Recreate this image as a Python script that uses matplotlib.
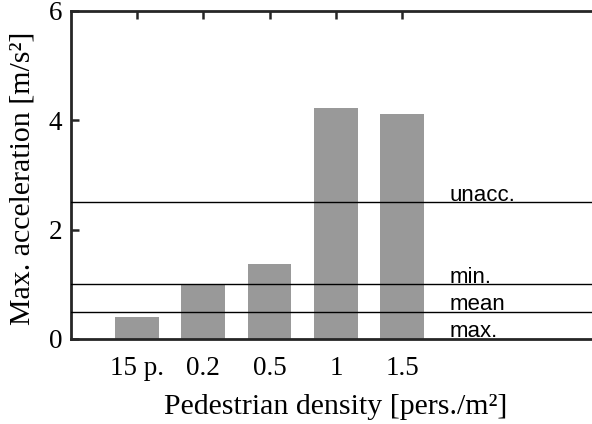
import matplotlib
matplotlib.use("Agg")
import matplotlib.pyplot as plt

# Data
categories = ["15 p.", "0.2", "0.5", "1", "1.5"]
max_accel = [0.41, 0.99, 1.37, 4.22, 4.11]

# Comfort thresholds (m/s^2)
threshold_names = ["unacc.", "min.", "mean", "max."]
threshold_values = [2.5, 1.0, 0.5, 0.0]

plt.rcParams["font.family"] = ["Liberation Serif", "DejaVu Serif"]

fig = plt.figure(figsize=(5.92, 4.24), dpi=100)
ax = fig.add_axes([0.1194, 0.2005, 0.896, 0.7743])

positions = list(range(1, len(categories) + 1))
ax.bar(positions, max_accel, width=0.66, color="#999999", zorder=2)

for name, val in zip(threshold_names, threshold_values):
    if val > 0:
        ax.axhline(val, color="black", linewidth=1.0, zorder=3)
    ax.text(5.71, val + 0.03, name, family=["Liberation Sans", "DejaVu Sans"],
            fontsize=16, ha="left", va="baseline", zorder=4)

ax.set_xlim(0, 8)
ax.set_ylim(0, 6)
ax.set_xticks(positions)
ax.set_xticklabels(categories)
ax.set_yticks([0, 2, 4, 6])

ax.tick_params(direction="in", length=6, width=1.8, color="#262626",
               labelsize=19.5, top=True, right=True, pad=6)
ax.tick_params(axis="x", pad=12.5)
for side in ["left", "bottom", "top", "right"]:
    ax.spines[side].set_linewidth(2.0)
    ax.spines[side].set_color("#262626")

ax.set_xlabel("Pedestrian density [pers./m²]", fontsize=21.5)
ax.set_ylabel("Max. acceleration [m/s²]", fontsize=21.5)
ax.xaxis.set_label_coords(0.5, -0.168)
ax.yaxis.set_label_coords(-0.066, 0.49)

fig.savefig("out.png", dpi=100)
